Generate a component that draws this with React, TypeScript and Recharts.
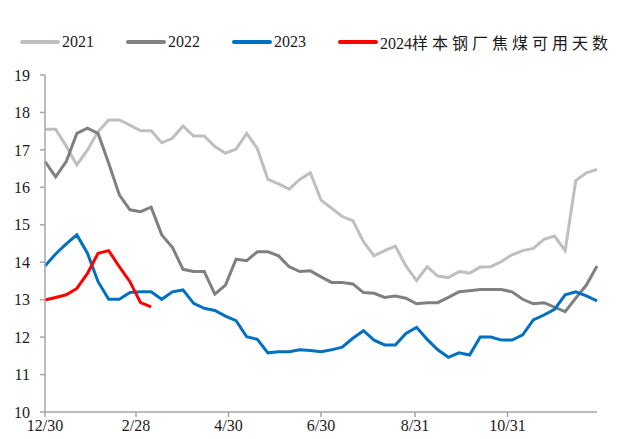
import { CartesianGrid, Line, LineChart, XAxis, YAxis } from "recharts";

// x positions: days since 12/30, one point per week
const weekDays = Array.from({ length: 53 }, (_, i) => i * 7);

const xTickDays = [0, 60, 121, 182, 244, 305];
const xTickLabels = ["12/30", "2/28", "4/30", "6/30", "8/31", "10/31"];
const yTicks = [10, 11, 12, 13, 14, 15, 16, 17, 18, 19];

const v2021 = [
  17.55, 17.55, 17.1, 16.6, 17.0, 17.49, 17.8, 17.8, 17.66, 17.51, 17.51, 17.19, 17.31, 17.64,
  17.37, 17.37, 17.09, 16.91, 17.02, 17.44, 17.04, 16.21, 16.09, 15.95, 16.21, 16.39, 15.66,
  15.44, 15.22, 15.11, 14.55, 14.17, 14.31, 14.43, 13.9, 13.51, 13.88, 13.63, 13.59, 13.75,
  13.71, 13.87, 13.88, 14.02, 14.2, 14.31, 14.37, 14.61, 14.7, 14.31, 16.18, 16.39, 16.48,
];
const v2022 = [
  16.69, 16.28, 16.69, 17.44, 17.58, 17.44, 16.64, 15.8, 15.4, 15.35, 15.47, 14.73, 14.4, 13.81,
  13.75, 13.75, 13.15, 13.39, 14.08, 14.04, 14.28, 14.28, 14.17, 13.88, 13.75, 13.77, 13.61,
  13.46, 13.46, 13.42, 13.19, 13.17, 13.06, 13.1, 13.04, 12.89, 12.92, 12.92, 13.06, 13.21,
  13.24, 13.27, 13.27, 13.27, 13.21, 13.01, 12.89, 12.92, 12.8, 12.68, 13.04, 13.39, 13.9,
];
const v2023 = [
  13.9, 14.22, 14.49, 14.73, 14.24, 13.48, 13.01, 13.01, 13.19, 13.21, 13.21, 13.01, 13.21, 13.26,
  12.9, 12.77, 12.71, 12.56, 12.44, 12.01, 11.94, 11.58, 11.61, 11.61, 11.66, 11.64, 11.61,
  11.66, 11.73, 11.97, 12.17, 11.92, 11.79, 11.79, 12.1, 12.26, 11.94, 11.66, 11.46, 11.58,
  11.52, 12.0, 12.0, 11.92, 11.92, 12.06, 12.46, 12.59, 12.74, 13.13, 13.21, 13.1, 12.97,
];
const v2024 = [12.99, 13.06, 13.13, 13.3, 13.7, 14.24, 14.31, 13.88, 13.48, 12.92, 12.81];

const series = [
  { key: "y2021", name: "2021", color: "#BFBFBF" },
  { key: "y2022", name: "2022", color: "#808080" },
  { key: "y2023", name: "2023", color: "#0070C0" },
  { key: "y2024", name: "2024样本钢厂焦煤可用天数", color: "#FF0000" },
];

const data = weekDays.map((day, i) => ({
  day,
  y2021: v2021[i],
  y2022: v2022[i],
  y2023: v2023[i],
  y2024: v2024[i],
}));

const serif = "Liberation Serif, DejaVu Serif, Noto Sans CJK SC, serif";
const tickStyle = { fill: "#1a1a1a", fontSize: 16, fontFamily: serif };

function LegendRow() {
  return (
    <div
      style={{
        position: "absolute",
        left: 20,
        top: 30,
        display: "flex",
        alignItems: "center",
        gap: 32,
        fontFamily: serif,
        fontSize: 16,
        color: "#1a1a1a",
        whiteSpace: "nowrap",
      }}
    >
      {series.map((s) => (
        <div key={s.key} style={{ display: "flex", alignItems: "center" }}>
          <span style={{ width: 40, height: 4, background: s.color, marginRight: 2, borderRadius: 2 }} />
          {s.name.length > 4 ? (
            <span>
              {s.name.slice(0, 4)}
              <span style={{ letterSpacing: 4 }}>{s.name.slice(4)}</span>
            </span>
          ) : (
            <span>{s.name}</span>
          )}
        </div>
      ))}
    </div>
  );
}

export default function App() {
  return (
    <div style={{ position: "absolute", left: 0, top: 0, width: 617, height: 439, background: "#fff" }}>
      <LegendRow />
      <LineChart width={617} height={439} data={data} margin={{ top: 75, right: 20, left: 0, bottom: 0 }}>
        <CartesianGrid horizontal={false} vertical={false} />
        <XAxis
          dataKey="day"
          type="number"
          domain={[0, 364]}
          ticks={xTickDays}
          tickFormatter={(d) => xTickLabels[xTickDays.indexOf(d)] ?? ""}
          tick={tickStyle}
          tickSize={5}
          tickMargin={3}
          height={27}
          axisLine={{ stroke: "#A6A6A6", strokeWidth: 1.5 }}
          tickLine={{ stroke: "#A6A6A6", strokeWidth: 1.5 }}
          interval={0}
        />
        <YAxis
          type="number"
          domain={[10, 19]}
          ticks={yTicks}
          tick={tickStyle}
          tickSize={5}
          tickMargin={10}
          width={45}
          axisLine={{ stroke: "#A6A6A6", strokeWidth: 1.5 }}
          tickLine={{ stroke: "#A6A6A6", strokeWidth: 1.5 }}
          interval={0}
        />
        {series.map((s) => (
          <Line
            key={s.key}
            type="linear"
            dataKey={s.key}
            name={s.name}
            stroke={s.color}
            strokeWidth={3}
            dot={false}
            activeDot={false}
            isAnimationActive={false}
          />
        ))}
      </LineChart>
    </div>
  );
}
